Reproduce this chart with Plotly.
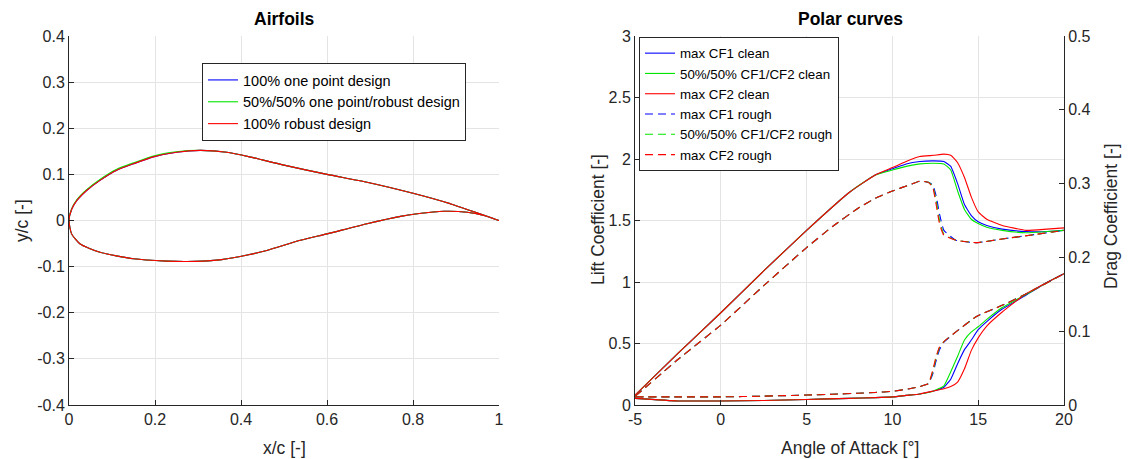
import plotly.graph_objects as go

# ---------------- Airfoil data ----------------
AF_UP_X = [1.0, 0.888, 0.80, 0.693, 0.60, 0.50, 0.42, 0.367, 0.305, 0.25, 0.196, 0.15, 0.111, 0.072, 0.041, 0.018, 0.006, 0.0]
AF_UP_Y = [0.0, 0.036, 0.059, 0.083, 0.100, 0.120, 0.138, 0.148, 0.152, 0.148, 0.138, 0.123, 0.109, 0.087, 0.065, 0.043, 0.024, 0.0]
AF_UP_Y_GREEN = [0.0, 0.036, 0.059, 0.083, 0.100, 0.120, 0.138, 0.148, 0.152, 0.149, 0.140, 0.125, 0.111, 0.089, 0.067, 0.045, 0.025, 0.0]
AF_LO_X = [0.0, 0.006, 0.026, 0.072, 0.15, 0.227, 0.274, 0.344, 0.398, 0.46, 0.538, 0.60, 0.693, 0.771, 0.81, 0.872, 0.926, 0.965, 1.0]
AF_LO_Y = [0.0, -0.029, -0.051, -0.069, -0.083, -0.088, -0.089, -0.086, -0.078, -0.065, -0.043, -0.029, -0.007, 0.009, 0.0145, 0.020, 0.018, 0.011, 0.0]

AF_NAMES = ["100% one point design", "50%/50% one point/robust design", "100% robust design"]

# ---------------- Polar data ----------------
AOA_CLEAN = [-5, -2.5, 0, 2.5, 5, 7.5, 9, 10, 10.8, 11.6, 12.4, 13.0, 13.4, 13.8, 14.2, 14.6, 15.0, 15.5, 16.4, 17.8, 19, 20]
CL_CF1_CLEAN = [0.08, 0.42, 0.75, 1.09, 1.42, 1.73, 1.87, 1.92, 1.96, 1.98, 1.985, 1.98, 1.94, 1.80, 1.63, 1.54, 1.49, 1.46, 1.43, 1.41, 1.41, 1.42]
CL_MIX_CLEAN = [0.08, 0.42, 0.75, 1.09, 1.42, 1.73, 1.87, 1.91, 1.94, 1.96, 1.965, 1.96, 1.91, 1.74, 1.59, 1.51, 1.475, 1.445, 1.42, 1.40, 1.41, 1.42]
CL_CF2_CLEAN = [0.08, 0.42, 0.75, 1.09, 1.42, 1.73, 1.87, 1.93, 1.98, 2.02, 2.03, 2.04, 2.03, 1.97, 1.85, 1.69, 1.57, 1.51, 1.46, 1.42, 1.43, 1.44]
CD_CF1_CLEAN = [0.009, 0.0055, 0.0055, 0.006, 0.0075, 0.009, 0.010, 0.011, 0.013, 0.015, 0.019, 0.024, 0.035, 0.056, 0.075, 0.088, 0.102, 0.113, 0.130, 0.149, 0.166, 0.178]
CD_MIX_CLEAN = [0.009, 0.0055, 0.0055, 0.006, 0.0075, 0.009, 0.010, 0.011, 0.013, 0.015, 0.019, 0.026, 0.045, 0.066, 0.088, 0.099, 0.106, 0.116, 0.132, 0.150, 0.166, 0.178]
CD_CF2_CLEAN = [0.009, 0.0055, 0.0055, 0.006, 0.0075, 0.009, 0.010, 0.011, 0.013, 0.015, 0.019, 0.022, 0.025, 0.031, 0.049, 0.074, 0.091, 0.107, 0.126, 0.151, 0.166, 0.178]

AOA_ROUGH = [-5, -2.5, 0, 2.5, 5, 6.5, 8, 9, 10, 11, 11.6, 12.1, 12.35, 12.55, 12.75, 13.0, 13.7, 14.9, 16.4, 18.0, 20]
CL_CF1_ROUGH = [0.07, 0.37, 0.65, 0.97, 1.28, 1.45, 1.60, 1.68, 1.74, 1.79, 1.82, 1.81, 1.79, 1.70, 1.55, 1.42, 1.34, 1.32, 1.35, 1.38, 1.42]
CL_MIX_ROUGH = [0.07, 0.37, 0.65, 0.97, 1.28, 1.45, 1.60, 1.68, 1.74, 1.79, 1.82, 1.81, 1.78, 1.66, 1.50, 1.39, 1.34, 1.32, 1.35, 1.38, 1.42]
CL_CF2_ROUGH = [0.07, 0.37, 0.65, 0.97, 1.28, 1.45, 1.60, 1.68, 1.74, 1.79, 1.82, 1.81, 1.77, 1.63, 1.47, 1.38, 1.34, 1.32, 1.35, 1.38, 1.42]
CD_CF1_ROUGH = [0.011, 0.011, 0.011, 0.012, 0.0135, 0.0145, 0.016, 0.017, 0.0185, 0.022, 0.025, 0.029, 0.042, 0.060, 0.075, 0.085, 0.099, 0.120, 0.135, 0.153, 0.178]
CD_MIX_ROUGH = [0.011, 0.011, 0.011, 0.012, 0.0135, 0.0145, 0.016, 0.017, 0.0185, 0.022, 0.025, 0.029, 0.045, 0.064, 0.078, 0.086, 0.099, 0.120, 0.135, 0.153, 0.178]
CD_CF2_ROUGH = [0.011, 0.011, 0.011, 0.012, 0.0135, 0.0145, 0.016, 0.017, 0.0185, 0.022, 0.025, 0.029, 0.047, 0.066, 0.079, 0.086, 0.099, 0.120, 0.135, 0.153, 0.178]

POLAR_NAMES = ["max CF1 clean", "50%/50% CF1/CF2 clean", "max CF2 clean",
               "max CF1 rough", "50%/50% CF1/CF2 rough", "max CF2 rough"]

# ---------------- Tick labels ----------------
AF_X_TICKS = [0, 0.2, 0.4, 0.6, 0.8, 1]
AF_X_TICKTEXT = ["0", "0.2", "0.4", "0.6", "0.8", "1"]
AF_Y_TICKS = [-0.4, -0.3, -0.2, -0.1, 0, 0.1, 0.2, 0.3, 0.4]
AF_Y_TICKTEXT = ["-0.4", "-0.3", "-0.2", "-0.1", "0", "0.1", "0.2", "0.3", "0.4"]
AOA_TICKS = [-5, 0, 5, 10, 15, 20]
AOA_TICKTEXT = ["-5", "0", "5", "10", "15", "20"]
CL_TICKS = [0, 0.5, 1, 1.5, 2, 2.5, 3]
CL_TICKTEXT = ["0", "0.5", "1", "1.5", "2", "2.5", "3"]
CD_TICKS = [0, 0.1, 0.2, 0.3, 0.4, 0.5]
CD_TICKTEXT = ["0", "0.1", "0.2", "0.3", "0.4", "0.5"]

BLUE = "#0000ff"
GREEN = "#00e600"
RED = "#ff0000"
FONT = "Liberation Sans, Arial, Helvetica, sans-serif"
AXC = "#262626"
GRID = "#e4e4e4"

W, H = 1130, 459
PAGE_OFFSET = 8  # default body margin of the html page

fig = go.Figure()

cols = [BLUE, GREEN, RED]
clean_cl = [CL_CF1_CLEAN, CL_MIX_CLEAN, CL_CF2_CLEAN]
clean_cd = [CD_CF1_CLEAN, CD_MIX_CLEAN, CD_CF2_CLEAN]
rough_cl = [CL_CF1_ROUGH, CL_MIX_ROUGH, CL_CF2_ROUGH]
rough_cd = [CD_CF1_ROUGH, CD_MIX_ROUGH, CD_CF2_ROUGH]
SOLID = dict(width=1.1, shape="spline", smoothing=0.4)
DASH = dict(width=1.1, dash="8px,5px", shape="spline", smoothing=0.4)

# lift (left axis), carrying the polar legend
for i in range(3):
    fig.add_trace(go.Scatter(x=AOA_CLEAN, y=clean_cl[i], mode="lines",
                             line=dict(color=cols[i], **SOLID),
                             name=POLAR_NAMES[i], xaxis="x2", yaxis="y2", legend="legend"))
for i in range(3):
    fig.add_trace(go.Scatter(x=AOA_ROUGH, y=rough_cl[i], mode="lines",
                             line=dict(color=cols[i], **DASH),
                             name=POLAR_NAMES[3 + i], xaxis="x2", yaxis="y2", legend="legend"))
# drag (right axis)
for i in range(3):
    fig.add_trace(go.Scatter(x=AOA_CLEAN, y=clean_cd[i], mode="lines",
                             line=dict(color=cols[i], **SOLID),
                             showlegend=False, xaxis="x2", yaxis="y3"))
for i in range(3):
    fig.add_trace(go.Scatter(x=AOA_ROUGH, y=rough_cd[i], mode="lines",
                             line=dict(color=cols[i], **DASH),
                             showlegend=False, xaxis="x2", yaxis="y3"))

# Airfoils
af_upper = [AF_UP_Y, AF_UP_Y_GREEN, AF_UP_Y]
for name, col, uy in zip(AF_NAMES, cols, af_upper):
    fig.add_trace(go.Scatter(
        x=AF_UP_X + AF_LO_X[1:], y=uy + AF_LO_Y[1:],
        mode="lines", line=dict(color=col, width=1.1, shape="spline", smoothing=0.6),
        name=name, xaxis="x", yaxis="y", legend="legend2"))


def px_x(p):
    return (p - PAGE_OFFSET) / W


def px_y(p):
    return 1 - (p - PAGE_OFFSET) / H


ydom = [px_y(405), px_y(36)]

common = dict(showline=True, linecolor=AXC, linewidth=1, ticks="inside", ticklen=5,
              tickcolor=AXC, tickwidth=1, showgrid=True, gridcolor=GRID, gridwidth=1,
              zeroline=False, tickfont=dict(family=FONT, size=16, color=AXC), mirror=False,
              automargin=False)


def label(text, x, y, size, color=AXC, angle=0):
    return dict(text=text, x=px_x(x), y=px_y(y), xref="paper", yref="paper",
                xanchor="center", yanchor="middle", showarrow=False, textangle=angle,
                font=dict(family=FONT, size=size, color=color))


fig.update_layout(
    width=W, height=H,
    paper_bgcolor="white", plot_bgcolor="white",
    margin=dict(l=0, r=0, t=0, b=0, autoexpand=False),
    font=dict(family=FONT, color=AXC),
    xaxis=dict(domain=[px_x(69), px_x(499)], range=[0, 1], anchor="y",
               tickvals=AF_X_TICKS, ticktext=AF_X_TICKTEXT, **common),
    yaxis=dict(domain=ydom, range=[-0.4, 0.4], anchor="x",
               tickvals=AF_Y_TICKS, ticktext=AF_Y_TICKTEXT, **common),
    xaxis2=dict(domain=[px_x(635), px_x(1064)], range=[-5, 20], anchor="y2",
                tickvals=AOA_TICKS, ticktext=AOA_TICKTEXT, **common),
    yaxis2=dict(domain=ydom, range=[0, 3], anchor="x2",
                tickvals=CL_TICKS, ticktext=CL_TICKTEXT, **common),
    yaxis3=dict(range=[0, 0.5], overlaying="y2", anchor="x2", side="right",
                tickvals=CD_TICKS, ticktext=CD_TICKTEXT,
                **{**common, "showgrid": False}),
    legend=dict(x=px_x(639), y=px_y(37), xanchor="left", yanchor="top",
                bgcolor="white", bordercolor=AXC, borderwidth=1,
                font=dict(family=FONT, size=13.3, color="black"),
                tracegroupgap=0, itemwidth=30),
    legend2=dict(x=px_x(202), y=px_y(63), xanchor="left", yanchor="top",
                 bgcolor="white", bordercolor=AXC, borderwidth=1,
                 font=dict(family=FONT, size=14.5, color="black"),
                 tracegroupgap=0, itemwidth=30),
    annotations=[
        label("<b>Airfoils</b>", 284, 19, 17.5, "black"),
        label("<b>Polar curves</b>", 850, 19, 17.5, "black"),
        label("x/c [-]", 284, 448, 17.5),
        label("Angle of Attack [°]", 850, 448, 17.5),
        label("y/c [-]", 22, 221, 17.5, angle=-90),
        label("Lift Coefficient [-]", 598, 220, 17.5, angle=-90),
        label("Drag Coefficient [-]", 1111, 216, 17.5, angle=-90),
    ],
)

fig.write_html("out.html")
